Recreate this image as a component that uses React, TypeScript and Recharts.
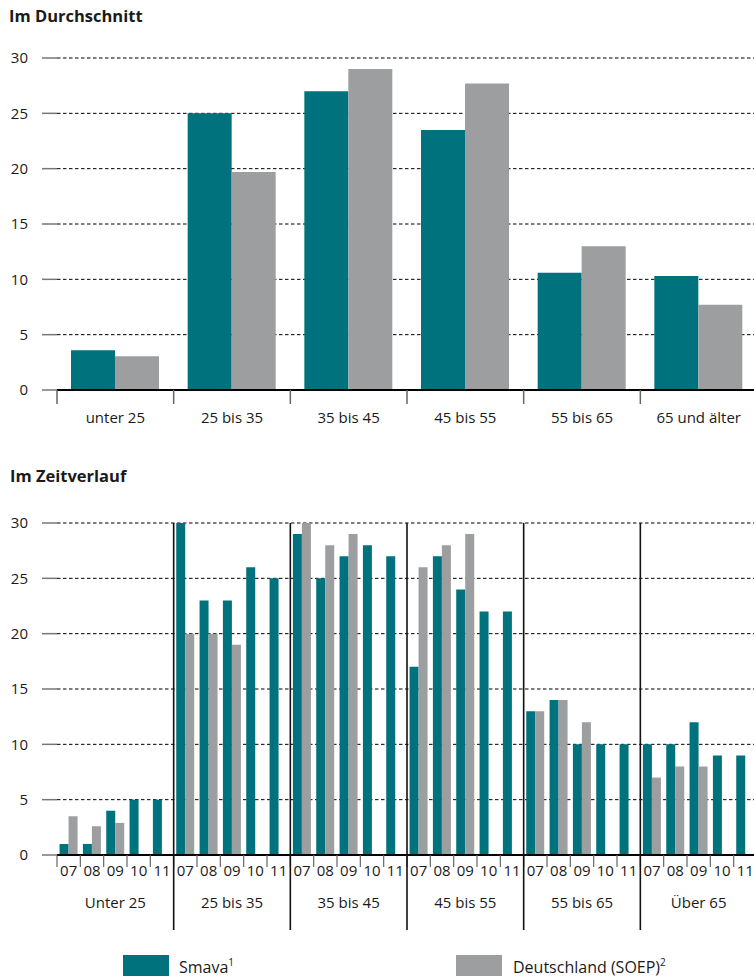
import React from 'react';
import { BarChart, Bar, XAxis, YAxis, CartesianGrid } from 'recharts';

// Im Durchschnitt
const AVG_GROUPS = ['unter 25', '25 bis 35', '35 bis 45', '45 bis 55', '55 bis 65', '65 und älter'];
const AVG_SMAVA = [3.6, 25, 27, 23.5, 10.6, 10.3];
const AVG_SOEP = [3.05, 19.7, 29, 27.7, 13, 7.7];

// Im Zeitverlauf
const YEARS = ['07', '08', '09', '10', '11'];
const TREND_GROUPS = ['Unter 25', '25 bis 35', '35 bis 45', '45 bis 55', '55 bis 65', 'Über 65'];
const TREND_SMAVA = [
  [1, 1, 4, 5, 5],
  [30, 23, 23, 26, 25],
  [29, 25, 27, 28, 27],
  [17, 27, 24, 22, 22],
  [13, 14, 10, 10, 10],
  [10, 10, 12, 9, 9],
];
const TREND_SOEP = [
  [3.5, 2.6, 2.9, null, null],
  [20, 20, 19, null, null],
  [30, 28, 29, null, null],
  [26, 28, 29, null, null],
  [13, 14, 12, null, null],
  [7, 8, 8, null, null],
];

const Y_TICKS = [0, 5, 10, 15, 20, 25, 30];

const TEAL = '#00727D';
const GRAY = '#9D9EA0';
const TEXT = '#1a1a1a';
const FONT = '"Open Sans", sans-serif';

const CHART_W = 757;
const AXIS_W = 57;
const PLOT_W = CHART_W - AXIS_W;
const PLOT_H = 332;

const avgData = AVG_GROUPS.map((g, i) => ({ group: g, smava: AVG_SMAVA[i], soep: AVG_SOEP[i] }));

const trendData = TREND_GROUPS.flatMap((g, gi) =>
  YEARS.map((y, yi) => ({ group: g, year: y, smava: TREND_SMAVA[gi][yi], soep: TREND_SOEP[gi][yi] }))
);

const AvgTick = (props: any) => {
  const { x, y, payload } = props;
  const half = PLOT_W / AVG_GROUPS.length / 2;
  return (
    <g>
      <line x1={x - half} x2={x - half} y1={y} y2={y + 14} stroke="#666" strokeWidth={1.5} />
      <text x={x} y={y + 27} textAnchor="middle" dominantBaseline="central" fontSize={15} fill={TEXT} fontFamily={FONT}>
        {payload.value}
      </text>
    </g>
  );
};

const TrendTick = (props: any) => {
  const { x, y, payload, index } = props;
  const half = PLOT_W / trendData.length / 2;
  const gi = Math.floor(index / YEARS.length);
  const pos = index % YEARS.length;
  return (
    <g>
      <line x1={x - half} x2={x - half} y1={y} y2={y + 12} stroke="#666" strokeWidth={1.2} />
      {pos === 0 && index > 0 && (
        <line x1={x - half} x2={x - half} y1={y - PLOT_H} y2={y + 75} stroke="#111" strokeWidth={1.6} />
      )}
      <text x={x} y={y + 15} textAnchor="middle" dominantBaseline="central" fontSize={15} fill={TEXT} fontFamily={FONT}>
        {payload.value}
      </text>
      {pos === 2 && (
        <text x={x} y={y + 47} textAnchor="middle" dominantBaseline="central" fontSize={15} fill={TEXT} fontFamily={FONT}>
          {TREND_GROUPS[gi]}
        </text>
      )}
    </g>
  );
};

const yAxisProps = {
  type: 'number' as const,
  domain: [0, 30],
  ticks: Y_TICKS,
  width: AXIS_W,
  axisLine: false,
  tickSize: 15,
  tickMargin: 14,
  tickLine: { stroke: '#777', strokeWidth: 1.5 },
  tick: { fontSize: 15, fill: TEXT, fontFamily: FONT },
};

const App: React.FC = () => (
  <div
    style={{
      position: 'fixed',
      top: 0,
      left: 0,
      width: 754,
      height: 977,
      overflow: 'hidden',
      background: '#fff',
      fontFamily: FONT,
    }}
  >
    <div style={{ position: 'absolute', top: 0, left: 0 }}>
      <BarChart width={CHART_W} height={440} data={avgData} margin={{ top: 58, right: 0, left: 0, bottom: 0 }}
        barCategoryGap="12%" barGap={0}>
        <CartesianGrid vertical={false} stroke="#000" strokeDasharray="3.5 2.5" />
        <XAxis dataKey="group" height={50} interval={0} tickSize={0} tickMargin={0}
          axisLine={{ stroke: '#000', strokeWidth: 2 }} tickLine={false} tick={<AvgTick />} />
        <YAxis {...yAxisProps} />
        <Bar dataKey="smava" fill={TEAL} isAnimationActive={false} />
        <Bar dataKey="soep" fill={GRAY} isAnimationActive={false} />
      </BarChart>
    </div>

    <div style={{ position: 'absolute', top: 465, left: 0 }}>
      <BarChart width={CHART_W} height={475} data={trendData} margin={{ top: 58, right: 0, left: 0, bottom: 0 }}
        barCategoryGap="11%" barGap={0}>
        <CartesianGrid vertical={false} stroke="#000" strokeDasharray="3.5 2.5" />
        <XAxis dataKey="year" height={85} interval={0} tickSize={0} tickMargin={0}
          axisLine={{ stroke: '#000', strokeWidth: 2 }} tickLine={false} tick={<TrendTick />} />
        <YAxis {...yAxisProps} />
        <Bar dataKey="smava" fill={TEAL} isAnimationActive={false} />
        <Bar dataKey="soep" fill={GRAY} isAnimationActive={false} />
      </BarChart>
    </div>

    <svg width={754} height={977} style={{ position: 'absolute', top: 0, left: 0, pointerEvents: 'none' }}>
      <text x={9} y={22} fontSize={16.5} fontWeight={700} fill={TEXT} fontFamily={FONT}>Im Durchschnitt</text>
      <text x={10} y={482} fontSize={16.5} fontWeight={700} fill={TEXT} fontFamily={FONT}>Im Zeitverlauf</text>

      <rect x={123} y={955} width={46} height={21} fill={TEAL} />
      <text x={179} y={973} fontSize={16} fill={TEXT} fontFamily={FONT}>
        Smava<tspan fontSize={10} dy={-7}>1</tspan>
      </text>
      <rect x={456} y={955} width={46} height={21} fill={GRAY} />
      <text x={513} y={973} fontSize={16} fill={TEXT} fontFamily={FONT}>
        Deutschland (SOEP)<tspan fontSize={10} dy={-7}>2</tspan>
      </text>
    </svg>
  </div>
);

export default App;
